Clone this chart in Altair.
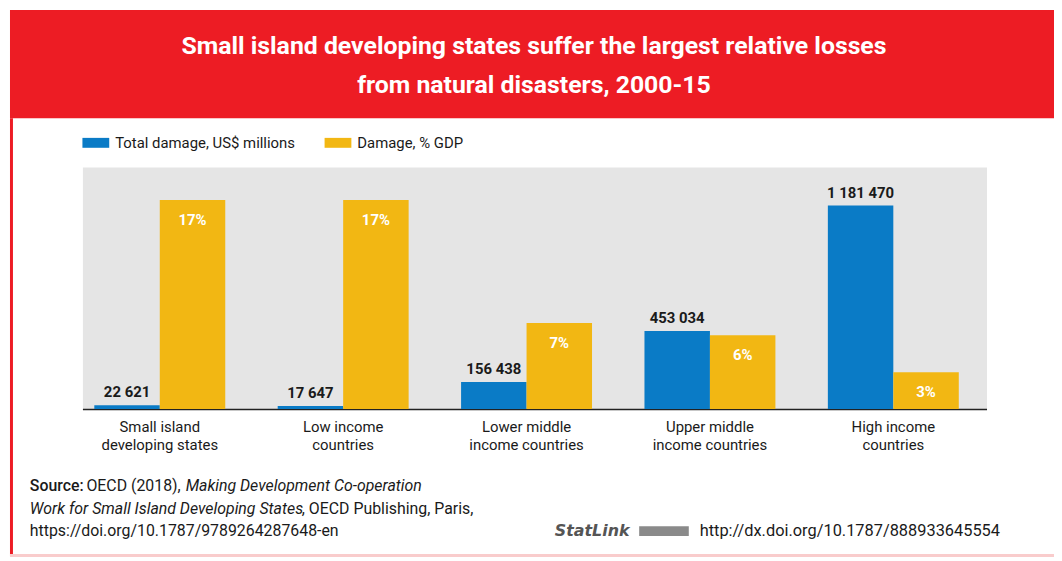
import altair as alt
import pandas as pd

# ---------------- data ----------------
categories = [
    "Small island\ndeveloping states",
    "Low income\ncountries",
    "Lower middle\nincome countries",
    "Upper middle\nincome countries",
    "High income\ncountries",
]
series_names = ["Total damage, US$ millions", "Damage, % GDP"]
damage_usd = [22621, 17647, 156438, 453034, 1181470]
damage_pct = [17, 17, 7, 6, 3]

title_lines = [
    "Small island developing states suffer the largest relative losses",
    "from natural disasters, 2000-15",
]

# ---------------- style ----------------
FONT = "Roboto, Liberation Sans, sans-serif"
RED = "#ed1c24"
BLUE = "#0a7bc6"
YELLOW = "#f2b713"
GRAY_BG = "#e5e5e5"
INK = "#1a1a1a"

df_usd = pd.DataFrame({
    "category": categories,
    "series": series_names[0],
    "value": damage_usd,
    "label": [f"{v:,}".replace(",", " ") for v in damage_usd],
})
df_pct = pd.DataFrame({
    "category": categories,
    "series": series_names[1],
    "value": damage_pct,
    "label": [f"{v}%" for v in damage_pct],
})

x_enc = alt.X(
    "category:N",
    sort=categories,
    scale=alt.Scale(paddingInner=0.286, paddingOuter=0.108, align=0.3),
    axis=alt.Axis(
        title=None,
        labelExpr="split(datum.label, '\\n')",
        labelAngle=0,
        ticks=False,
        domainColor="#222222",
        domainWidth=1.5,
        labelFontSize=15,
        labelFont=FONT,
        labelColor=INK,
        labelPadding=11,
        labelLineHeight=18,
        labelLimit=300,
    ),
)
xoff_enc = alt.XOffset("series:N", sort=series_names,
                       scale=alt.Scale(domain=series_names, paddingInner=0, paddingOuter=0))
color_enc = alt.Color(
    "series:N",
    scale=alt.Scale(domain=series_names, range=[BLUE, YELLOW]),
    legend=alt.Legend(
        title=None,
        orient="none",
        legendX=0,
        legendY=-38,
        direction="horizontal",
        symbolType="M-1,-0.37H1V0.37H-1Z",
        symbolSize=729,
        symbolStrokeWidth=0,
        symbolOpacity=1,
        labelFontSize=15,
        labelFont=FONT,
        labelColor=INK,
        labelOffset=6,
        labelLimit=400,
        columnPadding=29,
    ),
)

y_usd = alt.Y("value:Q", scale=alt.Scale(domain=[0, 1406000]), axis=None)
y_pct = alt.Y("value:Q", scale=alt.Scale(domain=[0, 19.7]), axis=None)

usd_base = alt.Chart(df_usd).encode(x=x_enc, xOffset=xoff_enc, y=y_usd)
usd_bars = usd_base.mark_bar().encode(color=color_enc)
usd_text = usd_base.mark_text(baseline="bottom", dy=-5, fontSize=15, font=FONT,
                              color=INK, fontWeight="bold").encode(text="label:N")
usd_layer = alt.layer(usd_bars, usd_text)

pct_base = alt.Chart(df_pct).encode(x=x_enc, xOffset=xoff_enc, y=y_pct)
pct_bars = pct_base.mark_bar().encode(color=color_enc)
pct_text = pct_base.mark_text(baseline="middle", dy=20, fontSize=15, font=FONT,
                              color="white", fontWeight="bold").encode(text="label:N")
pct_layer = alt.layer(pct_bars, pct_text)


def deco_rect(x, x2, y, y2, color):
    return alt.Chart(alt.Data(values=[{}])).mark_rect(color=color).encode(
        x=alt.value(x), x2=alt.value(x2), y=alt.value(y), y2=alt.value(y2))


def note(text, x, y, style="normal", weight="normal", color=INK, size=16, align="left", font=FONT):
    return alt.Chart(alt.Data(values=[{}])).mark_text(
        text=text, align=align, baseline="middle", font=font, fontSize=size,
        fontStyle=style, fontWeight=weight, color=color,
    ).encode(x=alt.value(x), y=alt.value(y))


decor = [
    deco_rect(-73, 979, -158, -49, RED),
    deco_rect(-73, -70, -49, 392, RED),
    deco_rect(-73, 979, 390, 393, "#f9cccc"),
    note(title_lines[0], 455, -122, weight="bold", color="white", size=25, align="center"),
    note(title_lines[1], 455, -82, weight="bold", color="white", size=25, align="center"),
    note("Source:", -53, 322, weight=500),
    note("OECD (2018),", 4, 322),
    note("Making Development Co-operation", 104, 322, style="italic"),
    note("Work for Small Island Developing States", -53, 345, style="italic"),
    note(", OECD Publishing, Paris,", 221, 345),
    note("https://doi.org/10.1787/9789264287648-en", -53, 367),
    note("StatLink", 476, 367, style="italic", weight="bold", color="#555555", size=16,
         font="DejaVu Sans, sans-serif"),
    deco_rect(561, 611, 362, 372, "#8a8a8a"),
    note("http://dx.doi.org/10.1787/888933645554", 622, 367, size=16.5),
]

chart = alt.layer(*decor, usd_layer, pct_layer).resolve_scale(
    y="independent"
).properties(
    width=911,
    height=244,
    padding={"left": 75, "top": 158, "right": 68, "bottom": 151},
    autosize=alt.AutoSizeParams(type="none"),
    background="white",
).configure_view(
    fill=GRAY_BG, stroke="transparent"
)

chart.save("out.html", embed_options={"renderer": "svg", "actions": False})
